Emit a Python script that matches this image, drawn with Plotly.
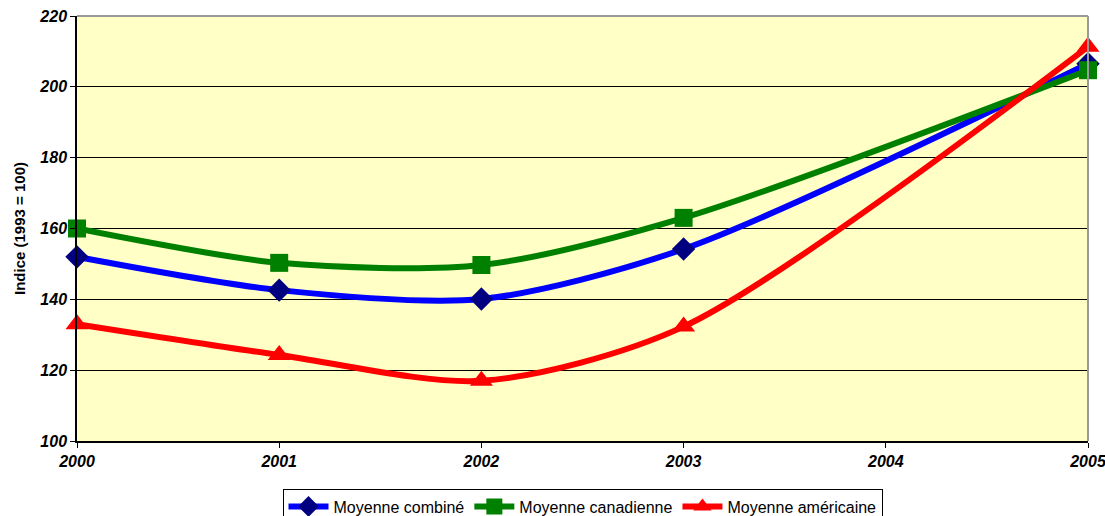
import plotly.graph_objects as go

years = [2000, 2001, 2002, 2003, 2005]
combine = [152.0, 142.6, 140.1, 154.2, 206.5]
canadienne = [160.0, 150.3, 149.7, 163.0, 204.7]
americaine = [133.0, 124.3, 117.0, 132.3, 211.3]

tick_years = [2000, 2001, 2002, 2003, 2004, 2005]
y_ticks = [100, 120, 140, 160, 180, 200, 220]

fig = go.Figure()

series = [
    ("Moyenne combiné", combine, "#0000FF", "#000080", "diamond", 18),
    ("Moyenne canadienne", canadienne, "#008000", "#008000", "square", 18),
    ("Moyenne américaine", americaine, "#FF0000", "#FF0000", "triangle-up", 20),
]

for name, vals, lc, mc, sym, sz in series:
    fig.add_trace(go.Scatter(
        x=years, y=vals, name=name, mode="lines+markers",
        line=dict(color=lc, width=6, shape="spline", smoothing=0.8),
        marker=dict(symbol=sym, size=sz, color=mc, line=dict(width=0)),
        cliponaxis=False,
    ))

fig.update_layout(
    width=1105, height=516,
    margin=dict(l=77, r=17, t=16, b=75, autoexpand=False),
    paper_bgcolor="white",
    plot_bgcolor="#FFFFC6",
    font=dict(family="Arial, Liberation Sans, sans-serif", color="black"),
    showlegend=True,
    legend=dict(
        orientation="h", x=0.5, xanchor="center", y=-0.112, yanchor="top",
        bordercolor="black", borderwidth=1, font=dict(size=16),
        itemwidth=40, tracegroupgap=0, traceorder="normal",
    ),
    xaxis=dict(
        range=[2000, 2005], tickvals=tick_years,
        ticktext=[f"<b><i>{y}</i></b>" for y in tick_years],
        tickfont=dict(size=16), showgrid=False, zeroline=False,
        showline=True, linecolor="black", linewidth=1.5,
        ticks="outside", ticklen=5, tickcolor="black",
        ticklabeloverflow="allow",
    ),
    yaxis=dict(
        range=[100, 220],
        tickvals=y_ticks,
        ticktext=[f"<b><i>{v}</i></b>" for v in y_ticks],
        tickfont=dict(size=16), showgrid=True, gridcolor="black", gridwidth=1,
        zeroline=False, showline=True, linecolor="black", linewidth=1.5,
        ticks="outside", ticklen=5, tickcolor="black",
        ticklabeloverflow="allow",
        title=dict(text="<b>Indice (1993 = 100)</b>", font=dict(size=15), standoff=10),
    ),
)

# grey frame on the top and right edges of the plot area
fig.add_shape(type="line", xref="paper", yref="paper", x0=0, x1=1, y0=1, y1=1,
              line=dict(color="#999999", width=2))
fig.add_shape(type="line", xref="paper", yref="paper", x0=1, x1=1, y0=0, y1=1,
              line=dict(color="#999999", width=2))

fig.write_html("out.html")
